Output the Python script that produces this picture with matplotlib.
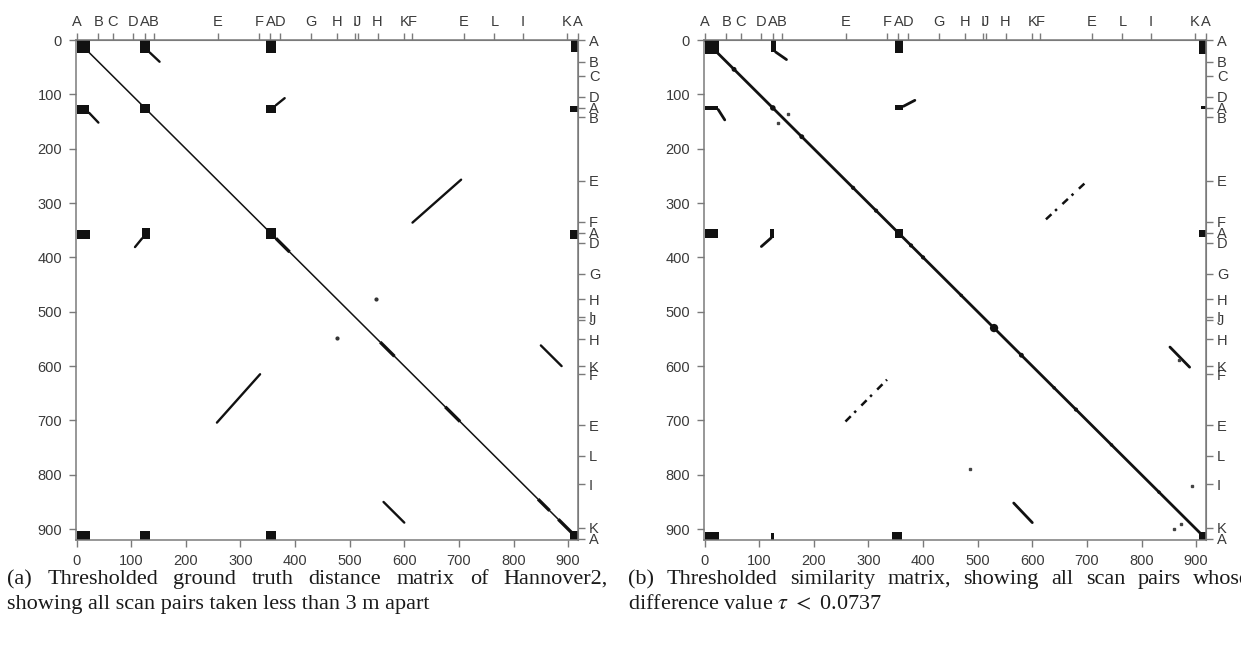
import matplotlib.pyplot as plt
from matplotlib.patches import Rectangle

plt.rcParams['font.family'] = ['Liberation Sans', 'DejaVu Sans']
plt.rcParams['mathtext.fontset'] = 'stix'

W, H = 1241, 645
N_SCANS = 920

scan_ticks = [0, 100, 200, 300, 400, 500, 600, 700, 800, 900]
place_labels = ['A', 'B', 'C', 'D', 'A', 'B', 'E', 'F', 'A', 'D', 'G',
                'H', 'I', 'J', 'H', 'K', 'F', 'E', 'L', 'I', 'K', 'A']
place_scans = [0, 40, 66, 104, 125, 142, 259, 334, 355, 373, 430,
               477, 509, 515, 551, 600, 615, 709, 765, 817, 897, 918]

# (a) ground truth: blocks as (x0, x1, y0, y1) in scan index
gt_blocks = [(0, 24, 0, 24), (117, 134, 0, 23), (346, 365, 0, 23), (905, 918, 0, 22),
             (0, 23, 120, 136), (117, 134, 118, 134), (346, 366, 120, 135), (903, 918, 121, 133),
             (0, 24, 349, 367), (119, 135, 346, 366), (346, 366, 346, 366), (903, 918, 350, 367),
             (0, 24, 904, 920), (117, 134, 904, 920), (346, 366, 904, 920), (904, 920, 904, 920)]
# off-diagonal loop closures (x0, y0, x1, y1)
gt_segments = [(134, 23, 152, 40), (23, 134, 40, 152),
               (365, 120, 381, 107), (120, 365, 107, 381),
               (615, 336, 704, 257), (257, 704, 336, 615),
               (850, 562, 888, 600), (562, 850, 600, 888)]
gt_dots = [(549, 477), (477, 549)]
gt_thick = [(365, 390), (556, 582), (675, 702), (845, 866), (882, 918)]

# (b) similarity
sim_blocks = [(0, 26, 0, 25), (122, 130, 0, 22), (348, 364, 0, 24), (906, 918, 0, 25),
              (0, 25, 122, 128), (908, 918, 122, 127), (348, 364, 120, 128),
              (0, 25, 348, 364), (120, 128, 348, 364), (348, 364, 348, 364), (906, 918, 350, 363),
              (0, 26, 905, 920), (121, 127, 908, 920), (343, 362, 905, 920), (906, 920, 906, 920)]
sim_segments = [(130, 22, 150, 36), (25, 128, 37, 147),
                (364, 122, 385, 111), (122, 364, 104, 380),
                (852, 565, 888, 602), (566, 852, 600, 888)]
sim_dashed = [(625, 330, 702, 258), (258, 702, 334, 625)]
sim_dots = [(134, 153), (153, 137), (893, 821), (486, 790), (868, 588), (860, 900), (873, 890)]
sim_spots = [54, 125, 178, 272, 314, 357, 378, 400, 470, 530, 580, 640, 680, 745, 832]
sim_spot_sizes = [3.5, 4, 3.5, 3, 3, 5, 3, 3, 2.5, 6, 3.5, 2.5, 3, 2.5, 2.5]

caption_a = ["(a) Thresholded ground truth distance matrix of Hannover2,",
             "showing all scan pairs taken less than 3 m apart"]
caption_b = ["(b) Thresholded similarity matrix, showing all scan pairs whose",
             r"difference value $\tau$ $<$ 0.0737"]


def style_axes(ax):
    ax.set_xlim(-1, 918)
    ax.set_ylim(N_SCANS, 0)
    for s in ax.spines.values():
        s.set_color('#7a7a7a')
        s.set_linewidth(1.1)
    ax.set_xticks(scan_ticks)
    ax.set_yticks(scan_ticks)
    ax.tick_params(direction='out', length=5, width=1, color='#7a7a7a',
                   labelsize=10.5, labelcolor='#3a3a3a', pad=5)
    top = ax.secondary_xaxis('top')
    top.set_xticks(place_scans, place_labels)
    right = ax.secondary_yaxis('right')
    right.set_yticks(place_scans, place_labels)
    for sec in (top, right):
        sec.tick_params(direction='out', length=5, width=1, color='#7a7a7a',
                        labelsize=10.5, labelcolor='#3a3a3a', pad=3)
        for s in sec.spines.values():
            s.set_color('#7a7a7a')


def draw_blocks(ax, blocks):
    for x0, x1, y0, y1 in blocks:
        ax.add_patch(Rectangle((x0, y0), x1 - x0, y1 - y0, color='#111111', lw=0))


def justify(fig, words, x0, x1, y, **kw):
    renderer = fig.canvas.get_renderer()
    texts = [fig.text(0, 1 - y / H, w, va='baseline', ha='left', **kw) for w in words]
    widths = [t.get_window_extent(renderer).width for t in texts]
    gap = (x1 - x0 - sum(widths)) / (len(words) - 1)
    x = x0
    for t, w in zip(texts, widths):
        t.set_x(x / W)
        x += w + gap


fig = plt.figure(figsize=(W / 100, H / 100), dpi=100)
ax_a = fig.add_axes([76 / W, 1 - 540 / H, 502 / W, 500 / H])
ax_b = fig.add_axes([704 / W, 1 - 540 / H, 502 / W, 500 / H])

for ax in (ax_a, ax_b):
    style_axes(ax)

# (a)
ax_a.plot([0, N_SCANS], [0, N_SCANS], color='#111111', lw=1.1)
for a, b in gt_thick:
    ax_a.plot([a, b], [a, b], color='#111111', lw=2.4, solid_capstyle='butt')
draw_blocks(ax_a, gt_blocks)
for x0, y0, x1, y1 in gt_segments:
    ax_a.plot([x0, x1], [y0, y1], color='#111111', lw=1.7, solid_capstyle='round')
for x, y in gt_dots:
    ax_a.plot(x, y, 'o', color='#333333', ms=2)

# (b)
ax_b.plot([0, N_SCANS], [0, N_SCANS], color='#111111', lw=2.0)
ax_b.scatter(sim_spots, sim_spots, s=[v ** 2 for v in sim_spot_sizes], color='#111111', lw=0)
draw_blocks(ax_b, sim_blocks)
for x0, y0, x1, y1 in sim_segments:
    ax_b.plot([x0, x1], [y0, y1], color='#111111', lw=2.0, solid_capstyle='round')
for x0, y0, x1, y1 in sim_dashed:
    ax_b.plot([x0, x1], [y0, y1], color='#111111', lw=1.8, ls=(0, (3, 2, 1, 3)))
for x, y in sim_dots:
    ax_b.plot(x, y, 's', color='#444444', ms=1.5)

serif = dict(family=['Liberation Serif', 'DejaVu Serif'], fontsize=16, color='#1a1a1a')
justify(fig, caption_a[0].split(' '), 7, 608, 584, **serif)
fig.text(7 / W, 1 - 609 / H, caption_a[1], va='baseline', **serif)
justify(fig, caption_b[0].split(' '), 628, 1250, 584, **serif)
fig.text(628 / W, 1 - 609 / H, caption_b[1], va='baseline', **serif)

fig.savefig('out.png', dpi=100, facecolor='white')
